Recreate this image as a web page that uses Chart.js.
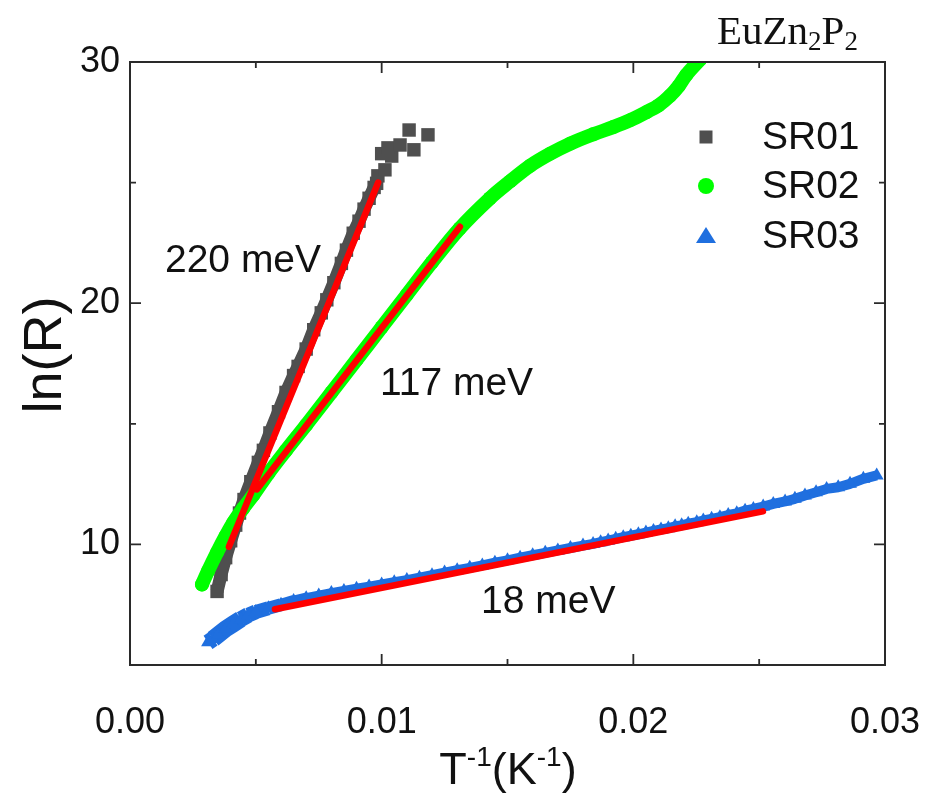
<!DOCTYPE html>
<html><head><meta charset="utf-8">
<script src="https://cdn.jsdelivr.net/npm/chart.js@4.4.1/dist/chart.umd.min.js"></script>
<style>html,body{margin:0;padding:0;background:#fff;}#wrap{width:925px;height:794px;}</style>
</head><body><div id="wrap"><canvas id="c" width="925" height="794"></canvas></div>
<script>
// ---- data ----
const seriesNames = ['SR01', 'SR02', 'SR03'];
const fitLabels = ['220 meV', '117 meV', '18 meV'];
const xTickLabels = ['0.00', '0.01', '0.02', '0.03'];
const yTickLabels = ['10', '20', '30'];

const sr01X = [0.00346, 0.00362, 0.0038, 0.0040, 0.0042, 0.00435, 0.00453, 0.0048, 0.0051, 0.0053, 0.00556, 0.0059, 0.0062, 0.0065, 0.00668, 0.0070, 0.0073, 0.0076, 0.00782, 0.0081, 0.0084, 0.0086, 0.00887, 0.0091, 0.0093, 0.0095, 0.0097, 0.0098,
               0.00985, 0.01013, 0.0100, 0.0104, 0.01025, 0.01073, 0.01109, 0.01128, 0.01184];
const sr01Y = [8.05, 8.75, 9.45, 10.15, 10.8, 11.3, 11.86, 12.6, 13.4, 13.9, 14.62, 15.5, 16.3, 17.0, 17.38, 18.1, 18.9, 19.6, 20.14, 20.85, 21.65, 22.2, 22.9, 23.4, 23.9, 24.35, 24.8, 24.97,
               25.28, 25.53, 26.2, 26.1, 26.44, 26.56, 27.18, 26.36, 26.98];
const sr01Continuous = 28; // points of the dense band; the rest are scattered squares

const sr02X = [0.00286, 0.0031, 0.00346, 0.0038, 0.0041, 0.0045, 0.0049, 0.0055, 0.0062, 0.0070, 0.0080, 0.0090, 0.0100, 0.0110, 0.0120, 0.0131, 0.0143, 0.0151, 0.0159, 0.0167, 0.0175, 0.0184, 0.0192, 0.0199, 0.02053, 0.0210, 0.02146, 0.0218, 0.0221, 0.02265];
const sr02Y = [8.34, 8.9, 9.67, 10.35, 10.9, 11.5, 12.05, 12.95, 13.9, 14.95, 16.3, 17.65, 19.0, 20.35, 21.7, 23.1, 24.35, 25.05, 25.7, 26.2, 26.62, 27.0, 27.3, 27.6, 27.93, 28.2, 28.6, 29.0, 29.46, 30.1];

const sr03X = [0.0031, 0.0033, 0.0035, 0.0038, 0.0041, 0.0044, 0.0047, 0.005,
               0.0055, 0.006, 0.0065, 0.007, 0.0075, 0.008, 0.0085, 0.009, 0.0095, 0.010, 0.0105, 0.011, 0.0115, 0.012, 0.0125, 0.013, 0.0135, 0.014, 0.0145, 0.015, 0.0155, 0.016, 0.0165, 0.017, 0.0175, 0.018,
               0.0184, 0.0187, 0.019, 0.0193, 0.0196, 0.0199, 0.0202, 0.0205, 0.0208, 0.0211,
               0.02139, 0.02166, 0.02192, 0.02218, 0.02252, 0.02278, 0.02311, 0.02344, 0.02377, 0.02411, 0.02444, 0.02477, 0.02516, 0.02556, 0.02603, 0.02642, 0.02682, 0.02726, 0.02768, 0.02814, 0.02861, 0.02914, 0.02967];
const sr03Y = [5.94, 6.08, 6.25, 6.5, 6.7, 6.9, 7.07, 7.2,
               7.35, 7.5, 7.65, 7.77, 7.88, 7.98, 8.07, 8.16, 8.25, 8.34, 8.43, 8.52, 8.62, 8.72, 8.83, 8.93, 9.03, 9.13, 9.24, 9.34, 9.45, 9.55, 9.65, 9.75, 9.85, 9.95,
               10.02, 10.09, 10.16, 10.23, 10.3, 10.36, 10.42, 10.49, 10.56, 10.62,
               10.67, 10.75, 10.79, 10.86, 10.92, 10.99, 11.06, 11.13, 11.22, 11.29, 11.40, 11.47, 11.57, 11.68, 11.78, 11.89, 12.03, 12.16, 12.30, 12.37, 12.51, 12.72, 12.86];
const sr03BandWidths = [16, 17, 17, 17, 17, 16, 15, 14, 13, 12, 11]; // band thickness near the knee (overlapping markers)

const fit01X = [0.00393, 0.00986], fit01Y = [9.9, 25.0];
const fit02X = [0.00504, 0.01311], fit02Y = [12.28, 23.17];
const fit03X = [0.00576, 0.02515], fit03Y = [7.31, 11.37];

// ---- build chart ----
const pts = (xs, ys) => xs.map((x, i) => ({x, y: ys[i]}));
const FONT = '"Liberation Sans", Arial, Helvetica, sans-serif';
const SERIF = '"Liberation Serif", "Times New Roman", serif';
const C_GRAY = '#4f4f4f', C_GREEN = '#00ff00', C_BLUE = '#1f6fdf', C_RED = '#ff0000';

function fitSet(xs, ys) {
  return {type: 'line', data: pts(xs, ys), borderColor: C_RED, borderWidth: 6.5, borderCapStyle: 'round',
          pointRadius: 0, fill: false, order: 0, clip: 0};
}

function rich(ctx, parts, x, y, align) {
  let total = 0;
  parts.forEach(p => { ctx.font = p.f; p.w = ctx.measureText(p.t).width; total += p.w; });
  let cx = align === 'center' ? x - total / 2 : x;
  ctx.textAlign = 'left';
  parts.forEach(p => { ctx.font = p.f; ctx.fillText(p.t, cx, y + (p.dy || 0)); cx += p.w; });
}

const decor = {
  id: 'decor',
  afterDraw(chart) {
    const {ctx, chartArea: a, scales: {x, y}} = chart;
    ctx.save();
    // frame
    ctx.strokeStyle = '#2a2a2a'; ctx.lineWidth = 2;
    ctx.strokeRect(a.left, a.top, a.right - a.left, a.bottom - a.top);
    // inward ticks on all four sides
    ctx.lineWidth = 1.8;
    x.ticks.forEach(t => {
      const px = x.getPixelForValue(t.value);
      const major = Math.abs(t.value * 100 - Math.round(t.value * 100)) < 1e-6;
      const L = major ? 11 : 6;
      ctx.beginPath();
      ctx.moveTo(px, a.bottom); ctx.lineTo(px, a.bottom - L);
      ctx.moveTo(px, a.top); ctx.lineTo(px, a.top + L);
      ctx.stroke();
    });
    y.ticks.forEach(t => {
      const py = y.getPixelForValue(t.value);
      const major = t.value % 10 === 0;
      const L = major ? 11 : 6;
      ctx.beginPath();
      ctx.moveTo(a.left, py); ctx.lineTo(a.left + L, py);
      ctx.moveTo(a.right, py); ctx.lineTo(a.right - L, py);
      ctx.stroke();
    });
    ctx.fillStyle = '#111';
    ctx.textBaseline = 'middle';
    // annotations (anchored to data coordinates)
    ctx.font = '39px ' + FONT; ctx.textAlign = 'left';
    ctx.fillText(fitLabels[0], x.getPixelForValue(0.00139), y.getPixelForValue(21.72));
    ctx.fillText(fitLabels[1], x.getPixelForValue(0.00993), y.getPixelForValue(16.63));
    ctx.fillText(fitLabels[2], x.getPixelForValue(0.01395), y.getPixelForValue(7.6));
    // legend
    const ds = chart.data.datasets;
    const legendRows = [137, 186, 236];
    seriesNames.forEach((name, i) => {
      const d = ds.find(s => s.label === name);
      const cy = legendRows[i];
      ctx.fillStyle = d.pointBackgroundColor;
      const mx = 706;
      ctx.beginPath();
      if (d.pointStyle === 'rect') ctx.rect(mx - 6.5, cy - 6.5, 13, 13);
      else if (d.pointStyle === 'circle') ctx.arc(mx, cy, 8, 0, Math.PI * 2);
      else { ctx.moveTo(mx, cy - 9); ctx.lineTo(mx + 10, cy + 7); ctx.lineTo(mx - 10, cy + 7); ctx.closePath(); }
      ctx.fill();
      ctx.fillStyle = '#111'; ctx.font = '39px ' + FONT; ctx.textAlign = 'left';
      ctx.fillText(name, 762, cy + 1);
    });
    // compound name
    ctx.textBaseline = 'alphabetic';
    rich(ctx, [
      {t: 'EuZn', f: '41px ' + SERIF},
      {t: '2', f: '27px ' + SERIF, dy: 6},
      {t: 'P', f: '41px ' + SERIF},
      {t: '2', f: '27px ' + SERIF, dy: 6}
    ], 717, 44, 'left');
    // axis titles
    rich(ctx, [
      {t: 'T', f: '45px ' + FONT},
      {t: '-1', f: '28px ' + FONT, dy: -18},
      {t: '(K', f: '45px ' + FONT},
      {t: '-1', f: '28px ' + FONT, dy: -18},
      {t: ')', f: '45px ' + FONT}
    ], 508, 784, 'center');
    ctx.translate(46, 355);
    ctx.rotate(-Math.PI / 2);
    ctx.font = '54px ' + FONT; ctx.textAlign = 'center'; ctx.textBaseline = 'middle';
    ctx.fillText('ln(R)', 0, 0);
    ctx.restore();
  }
};

new Chart(document.getElementById('c'), {
  type: 'scatter',
  data: {
    datasets: [
      fitSet(fit01X, fit01Y), fitSet(fit02X, fit02Y), fitSet(fit03X, fit03Y),
      {label: 'SR03', data: pts(sr03X, sr03Y), showLine: true, borderColor: C_BLUE, borderWidth: 10, borderJoinStyle: 'round', borderCapStyle: 'butt',
       segment: {borderWidth: c => c.p0DataIndex < sr03BandWidths.length ? sr03BandWidths[c.p0DataIndex] : 10},
       pointStyle: 'triangle', pointRadius: 8, pointBackgroundColor: C_BLUE, pointBorderWidth: 0, order: 1, clip: 0},
      {label: 'SR02', data: pts(sr02X, sr02Y), showLine: true, borderColor: C_GREEN, borderWidth: 14, borderJoinStyle: 'round', borderCapStyle: 'round',
       tension: 0.35, pointStyle: 'circle', pointRadius: 7, pointBackgroundColor: C_GREEN, pointBorderWidth: 0, order: 2, clip: 0},
      {label: 'SR01', data: pts(sr01X, sr01Y), showLine: true, borderColor: C_GRAY, borderWidth: 13, borderJoinStyle: 'round',
       segment: {borderColor: c => c.p1DataIndex >= sr01Continuous ? 'rgba(0,0,0,0)' : C_GRAY},
       pointStyle: 'rect', pointRadius: 9.5, pointBackgroundColor: C_GRAY, pointBorderWidth: 0, order: 3, clip: 0}
    ]
  },
  options: {
    responsive: false, animation: false, devicePixelRatio: 1,
    layout: {padding: {top: 62, right: 40, left: 0, bottom: 0}},
    plugins: {legend: {display: false}, tooltip: {enabled: false}},
    scales: {
      x: {type: 'linear', min: 0, max: 0.03,
          afterFit: s => { s.height = 129; s.paddingLeft = 0; s.paddingRight = 0; },
          afterBuildTicks: s => { s.ticks = [0,1,2,3,4,5,6].map(i => ({value: i * 0.005})); },
          ticks: {font: {size: 36, family: FONT}, color: '#111', padding: 36,
                  callback: (v) => { const k = Math.round(v * 200); return k % 2 === 0 ? xTickLabels[k / 2] : ''; },
                  maxRotation: 0, autoSkip: false},
          grid: {display: true, drawOnChartArea: false, drawTicks: false},
          border: {display: false}},
      y: {type: 'linear', min: 5, max: 30,
          afterFit: s => { s.width = 130; s.paddingTop = 0; s.paddingBottom = 0; },
          afterBuildTicks: s => { s.ticks = [5,10,15,20,25,30].map(v => ({value: v})); },
          ticks: {font: {size: 36, family: FONT}, color: '#111', padding: 10,
                  callback: (v) => v % 10 === 0 ? yTickLabels[v / 10 - 1] : '', autoSkip: false},
          grid: {display: true, drawOnChartArea: false, drawTicks: false},
          border: {display: false}}
    }
  },
  plugins: [decor]
});
</script></body></html>
